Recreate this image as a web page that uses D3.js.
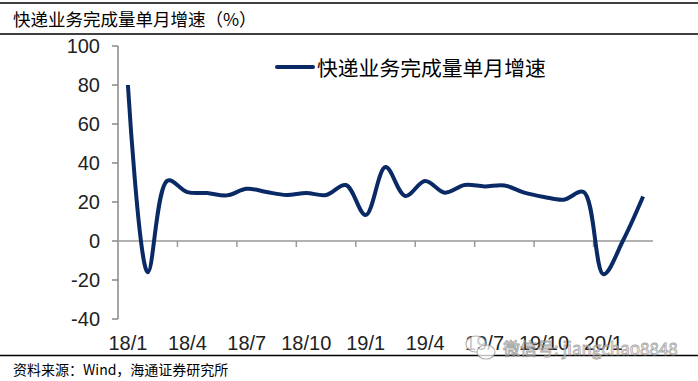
<!DOCTYPE html>
<html>
<head>
<meta charset="utf-8">
<script src="https://cdn.jsdelivr.net/npm/d3@7"></script>
<style>
  body { margin: 0; background: #fff; }
  text { font-family: "Liberation Sans", Arial, sans-serif; }
  .cjk { font-family: "Noto Sans CJK SC", sans-serif; }
</style>
</head>
<body>
<div id="chart-area"></div>
<script>
// months, 18/1 .. 20/3
var months = ["18/1","18/2","18/3","18/4","18/5","18/6","18/7","18/8","18/9","18/10","18/11","18/12",
    "19/1","19/2","19/3","19/4","19/5","19/6","19/7","19/8","19/9","19/10","19/11","19/12",
    "20/1","20/2","20/3"];
// 快递业务完成量单月增速 (%)
var growth = [80, -16, 31, 25.1, 24.6, 23.4, 26.8, 25.1, 23.6, 24.6, 23.6, 28.7,
    13.3, 37.9, 23.1, 30.8, 24.8, 28.7, 28, 28.5, 24.8, 22.6, 21.2, 25.1,
    -17, 0.5, 22.8];
var tickLabels = ["18/1","18/4","18/7","18/10","19/1","19/4","19/7","19/10","20/1"];
var yTicks = [-40, -20, 0, 20, 40, 60, 80, 100];

var W = 698, H = 381;

var svg = d3.select("#chart-area")
    .append("svg")
    .attr("width", W)
    .attr("height", H);

// header / footer rules
svg.append("line").attr("x1", 0).attr("x2", W).attr("y1", 3).attr("y2", 3)
    .attr("stroke", "#000").attr("stroke-width", 1.5);
svg.append("line").attr("x1", 0).attr("x2", W).attr("y1", 34).attr("y2", 34)
    .attr("stroke", "#000").attr("stroke-width", 1.5);
svg.append("line").attr("x1", 0).attr("x2", W).attr("y1", 355.5).attr("y2", 355.5)
    .attr("stroke", "#000").attr("stroke-width", 1.5);

svg.append("text").attr("class", "cjk")
    .attr("x", 13).attr("y", 26)
    .attr("font-size", "17.5px")
    .attr("fill", "#000")
    .text("快递业务完成量单月增速（%）");

svg.append("text").attr("class", "cjk")
    .attr("x", 13).attr("y", 375)
    .attr("font-size", "14px")
    .attr("fill", "#000")
    .text("资料来源：Wind，海通证券研究所");

var x = d3.scaleBand()
    .domain(months)
    .range([118, 653]);

var y = d3.scaleLinear()
    .domain([-40, 100])
    .range([319, 46]);

// y axis
var yAxis = svg.append("g");
yAxis.append("line")
    .attr("x1", 118).attr("x2", 118)
    .attr("y1", y(100)).attr("y2", y(-40))
    .attr("stroke", "#888").attr("stroke-width", 1.5);
yAxis.selectAll(".yt")
    .data(yTicks)
    .enter()
    .append("line")
    .attr("x1", 112).attr("x2", 118)
    .attr("y1", function(d){ return y(d); })
    .attr("y2", function(d){ return y(d); })
    .attr("stroke", "#888").attr("stroke-width", 1.5);
yAxis.selectAll("text")
    .data(yTicks)
    .enter()
    .append("text")
    .attr("x", 100)
    .attr("y", function(d){ return y(d) + 7; })
    .attr("text-anchor", "end")
    .attr("font-size", "20px")
    .attr("fill", "#222")
    .text(function(d){ return d; });

// zero line with ticks every 3 months
svg.append("line")
    .attr("x1", 118).attr("x2", 653)
    .attr("y1", y(0)).attr("y2", y(0))
    .attr("stroke", "#999").attr("stroke-width", 1.5);
svg.selectAll(".xt")
    .data(months.filter(function(d, i){ return i > 0 && i % 3 === 0; }))
    .enter()
    .append("line")
    .attr("x1", function(d){ return x(d); })
    .attr("x2", function(d){ return x(d); })
    .attr("y1", y(0)).attr("y2", y(0) + 6)
    .attr("stroke", "#999").attr("stroke-width", 1.5);

svg.selectAll(".xl")
    .data(tickLabels)
    .enter()
    .append("text")
    .attr("x", function(d){ return x(d) + x.bandwidth() / 2; })
    .attr("y", 350)
    .attr("text-anchor", "middle")
    .attr("font-size", "20px")
    .attr("fill", "#222")
    .text(function(d){ return d; });

// watermark
var wm = svg.append("g").attr("opacity", 0.75);
wm.append("ellipse").attr("cx", 476).attr("cy", 344).attr("rx", 10).attr("ry", 8)
    .attr("fill", "#fff").attr("stroke", "#999").attr("stroke-width", 1.2);
wm.append("ellipse").attr("cx", 486).attr("cy", 352).attr("rx", 9).attr("ry", 7)
    .attr("fill", "#fff").attr("stroke", "#999").attr("stroke-width", 1.2);
wm.append("text").attr("class", "cjk")
    .attr("x", 503).attr("y", 355)
    .attr("font-size", "17px")
    .attr("fill", "#fff").attr("stroke", "#888").attr("stroke-width", 0.8)
    .text("微信号: jiangchao8848");

// series line
var line = d3.line()
    .x(function(d, i){ return x(months[i]) + x.bandwidth() / 2; })
    .y(function(d){ return y(d); })
    .curve(d3.curveCatmullRom.alpha(0.5));

svg.append("path")
    .datum(growth)
    .attr("d", line)
    .attr("fill", "none")
    .attr("stroke", "#0a2a66")
    .attr("stroke-width", 4)
    .attr("stroke-linejoin", "round");

// legend
svg.append("line")
    .attr("x1", 277).attr("x2", 313)
    .attr("y1", 67).attr("y2", 67)
    .attr("stroke", "#0a2a66").attr("stroke-width", 4)
    .attr("stroke-linecap", "round");
svg.append("text").attr("class", "cjk")
    .attr("x", 317).attr("y", 76)
    .attr("font-size", "20.8px")
    .attr("fill", "#000")
    .text("快递业务完成量单月增速");
</script>
</body>
</html>
